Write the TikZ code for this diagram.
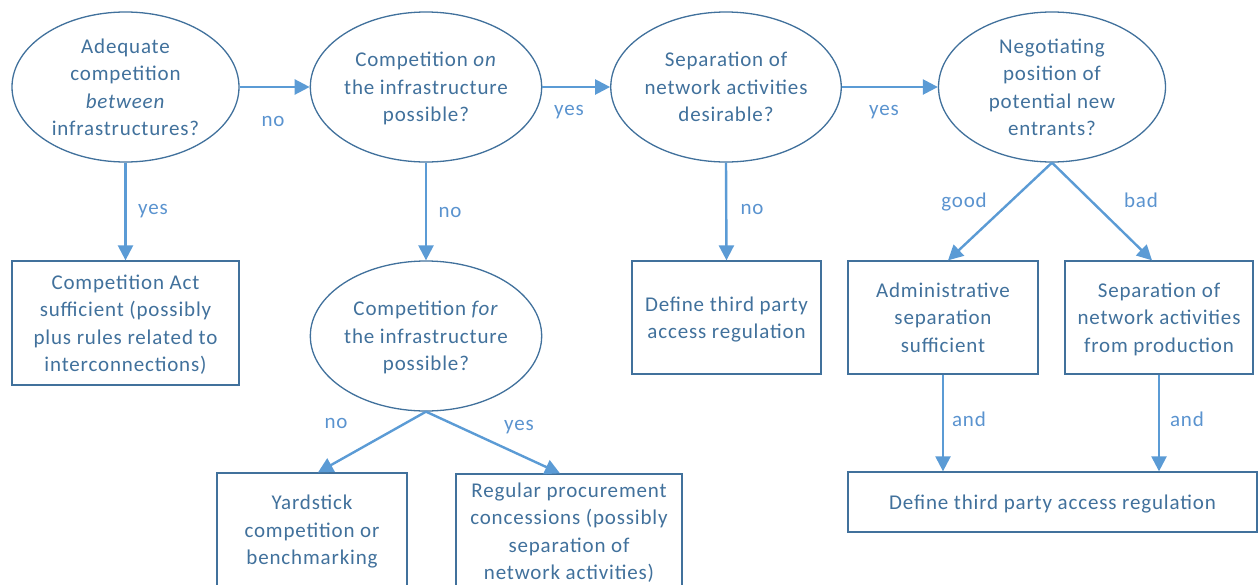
\documentclass[tikz,border=0pt]{standalone}
\usepackage{fontspec}
\setmainfont{Carlito}[LetterSpace=4]
\usetikzlibrary{shapes.geometric,arrows.meta,calc}
\definecolor{edge}{HTML}{41719C}
\definecolor{ink}{HTML}{41719C}
\definecolor{flow}{HTML}{5B9BD5}
\definecolor{tag}{HTML}{5A93CF}
\begin{document}
\begin{tikzpicture}[x=1pt,y=-1pt,
  every node/.style={font=\fontsize{21}{27.5}\selectfont, text=ink},
  question/.style={ellipse, draw=edge, line width=1.3pt, fill=white,
    minimum width=227pt, minimum height=150pt, inner sep=0pt, align=center,
    text depth=0pt},
  outcome/.style={rectangle, draw=edge, line width=1.3pt, fill=white,
    inner sep=0pt, align=center, text depth=0pt},
  arr/.style={draw=flow, line width=2.4pt,
    -{Triangle[length=15pt,width=15pt]}},
  lbl/.style={anchor=mid, inner sep=0pt, text=tag}]
\useasboundingbox (0,0) rectangle (1258,584);
\clip (0,0) rectangle (1258,584);

% decision ellipses
\node[question] (e1) at (125.5,87) {Adequate\\competition\\\textit{between}\\infrastructures?};
\node[question] (e2) at (426,87) {Competition \textit{on}\\the infrastructure\\possible?};
\node[question] (e3) at (726,87) {Separation of\\network activities\\desirable?};
\node[question] (e4) at (1052,87) {Negotiating\\position of\\potential new\\entrants?};
\node[question] (e5) at (426,336) {Competition \textit{for}\\the infrastructure\\possible?};

% outcome boxes
\node[outcome, minimum width=227pt, minimum height=124pt] (b1) at (125.5,323)
  {Competition Act\\sufficient (possibly\\plus rules related to\\interconnections)};
\node[outcome, minimum width=189pt, minimum height=113pt] (b3) at (726.5,317.5)
  {Define third party\\access regulation};
\node[outcome, minimum width=190pt, minimum height=113pt] (adm) at (943,317.5)
  {Administrative\\separation\\sufficient};
\node[outcome, minimum width=188pt, minimum height=113pt] (sep) at (1159,317.5)
  {Separation of\\network activities\\from production};
\node[outcome, minimum width=409pt, minimum height=60pt] (tpa) at (1052.5,502)
  {Define third party access regulation};
\node[outcome, minimum width=190pt, minimum height=114pt] (yard) at (312,530)
  {Yardstick\\competition or\\benchmarking};
\node[outcome, minimum width=226pt, minimum height=114pt] (proc) at (569,531)
  {Regular procurement\\concessions (possibly\\separation of\\network activities)};

% connectors
\draw[arr] (e1.east) -- (e2.west);
\draw[arr] (e2.east) -- (e3.west);
\draw[arr] (e3.east) -- (e4.west);
\draw[arr] (e1.south) -- (b1.north);
\draw[arr] (e2.south) -- (e5.north);
\draw[arr] (e3.south) -- (b3.north);
\draw[arr] (e5.south) -- ([xshift=6pt]yard.north);
\draw[arr] (e5.south) -- ([xshift=-9pt]proc.north);
\draw[arr] (e4.south) -- ([xshift=5pt]adm.north);
\draw[arr] (e4.south) -- ([xshift=-7pt]sep.north);
\draw[arr] (adm.south) -- (adm.south |- tpa.north);
\draw[arr] (sep.south) -- (sep.south |- tpa.north);

% connector labels
\node[lbl] at (273,124) {no};
\node[lbl] at (569,113) {yes};
\node[lbl] at (884,113) {yes};
\node[lbl] at (153,212) {yes};
\node[lbl] at (450,215) {no};
\node[lbl] at (752,212) {no};
\node[lbl] at (336,426) {no};
\node[lbl] at (519,428) {yes};
\node[lbl] at (964,205) {good};
\node[lbl] at (1141,205) {bad};
\node[lbl] at (969,424) {and};
\node[lbl] at (1187,424) {and};
\end{tikzpicture}
\end{document}
